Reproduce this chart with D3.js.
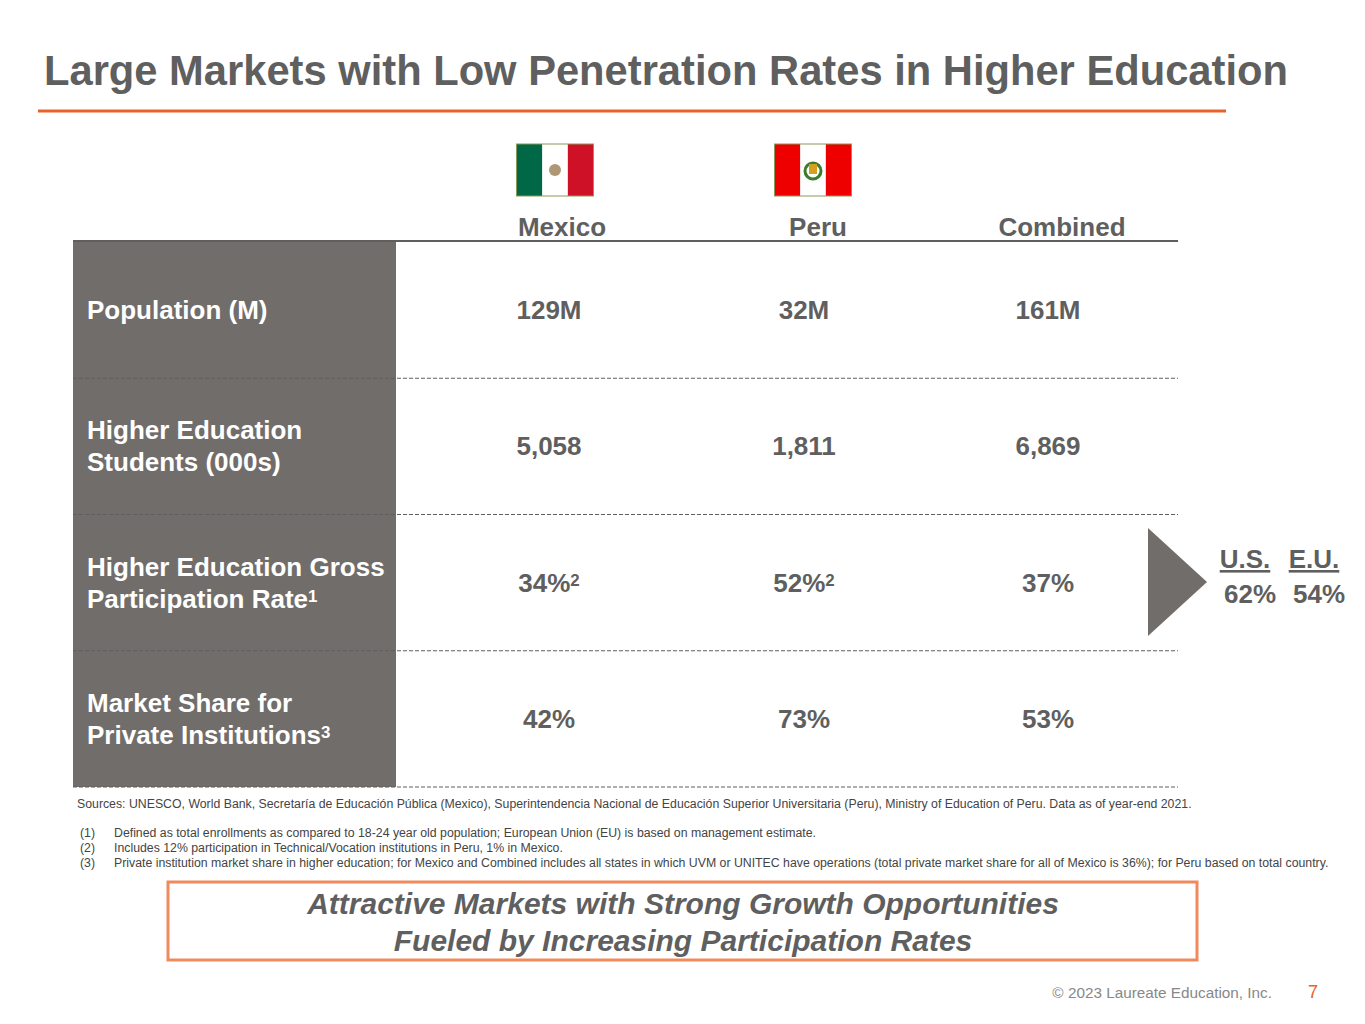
<!DOCTYPE html>
<html><head><meta charset="utf-8">
<script src="https://cdn.jsdelivr.net/npm/d3@7"></script>
<style>body{margin:0;background:#fff}svg{font-family:"Liberation Sans",Arial,sans-serif}</style>
</head><body><svg id="c" width="1365" height="1024"></svg>
<script>
// Table content
const columns = ["Mexico", "Peru", "Combined"];
const rowLabels = [["Population (M)"], ["Higher Education", "Students (000s)"],
  ["Higher Education Gross", "Participation Rate|1"], ["Market Share for", "Private Institutions|3"]];
const values = [["129M", "32M", "161M"], ["5,058", "1,811", "6,869"],
  ["34%|2", "52%|2", "37%"], ["42%", "73%", "53%"]];
const benchmarks = ["U.S.", "E.U."];
const benchmarkValues = ["62%", "54%"];
const footnotes = [
  "Defined as total enrollments as compared to 18-24 year old population; European Union (EU) is based on management estimate.",
  "Includes 12% participation in Technical/Vocation institutions in Peru, 1% in Mexico.",
  "Private institution market share in higher education; for Mexico and Combined includes all states in which UVM or UNITEC have operations (total private market share for all of Mexico is 36%); for Peru based on total country."
];

const grey = "#5f5f5f", boxGrey = "#716d6b", orange = "#e8622a";
const fs = 26;
const svg = d3.select("#c");

svg.append("text").attr("x", 44).attr("y", 85).attr("font-size", 41.7).attr("font-weight", "bold")
  .attr("fill", grey).text("Large Markets with Low Penetration Rates in Higher Education");
svg.append("line").attr("x1", 38).attr("x2", 1226).attr("y1", 111).attr("y2", 111)
  .attr("stroke", orange).attr("stroke-width", 3);

const x = d3.scaleOrdinal().domain(columns).range([549, 804, 1048]);
const headerX = d3.scaleOrdinal().domain(columns).range([562, 818, 1062]);
const y = d3.scaleBand().domain(d3.range(rowLabels.length)).range([242, 787]);

// helper: text with optional superscript after "|"
function supText(g, s, size) {
  const [main, sup] = s.split("|");
  g.append("tspan").text(main);
  if (sup) g.append("tspan").attr("font-size", size * 0.65).attr("dy", -6).text(sup);
}

// flags
function flag(cx, colors) {
  const w = 77, h = 52, x0 = cx - w / 2;
  colors.forEach((c, i) => svg.append("rect").attr("x", x0 + i * w / 3).attr("y", 144)
    .attr("width", w / 3 + 0.5).attr("height", h).attr("fill", c));
  svg.append("rect").attr("x", x0).attr("y", 144).attr("width", w).attr("height", h)
    .attr("fill", "none").attr("stroke", "#8a9a5b").attr("stroke-width", 1);
}
flag(555, ["#006847", "#ffffff", "#ce1126"]);
svg.append("circle").attr("cx", 555).attr("cy", 170).attr("r", 6).attr("fill", "#8b6b3a").attr("opacity", 0.7);
flag(813, ["#ef0000", "#ffffff", "#ef0000"]);
svg.append("circle").attr("cx", 813).attr("cy", 171).attr("r", 8).attr("fill", "none").attr("stroke", "#3a7d2c").attr("stroke-width", 3);
svg.append("rect").attr("x", 809).attr("y", 164).attr("width", 8).attr("height", 10).attr("fill", "#d4a020");

svg.selectAll(".hdr").data(columns).join("text").attr("x", d => headerX(d)).attr("y", 236)
  .attr("text-anchor", "middle").attr("font-size", fs).attr("font-weight", "bold").attr("fill", grey).text(d => d);
svg.append("line").attr("x1", 73).attr("x2", 1178).attr("y1", 241).attr("y2", 241).attr("stroke", grey).attr("stroke-width", 2);

svg.append("rect").attr("x", 73).attr("y", 242).attr("width", 323).attr("height", 545).attr("fill", boxGrey);

rowLabels.forEach((lines, i) => {
  const cy = y(i) + y.bandwidth() / 2;
  lines.forEach((l, j) => {
    const t = svg.append("text").attr("x", 87).attr("y", cy + 9 + (j - (lines.length - 1) / 2) * 32)
      .attr("font-size", fs).attr("font-weight", "bold").attr("fill", "#fff");
    supText(t, l, fs);
  });
  values[i].forEach((v, k) => {
    const t = svg.append("text").attr("x", x(columns[k])).attr("y", cy + 9)
      .attr("text-anchor", "middle").attr("font-size", fs).attr("font-weight", "bold").attr("fill", grey);
    supText(t, v, fs);
  });
  svg.append("line").attr("x1", 73).attr("x2", 1178).attr("y1", y(i) + y.bandwidth()).attr("y2", y(i) + y.bandwidth())
    .attr("stroke", grey).attr("stroke-width", 1).attr("stroke-dasharray", "4,2");
});

// arrow and benchmarks
svg.append("path").attr("d", "M1148,528L1207,582L1148,636Z").attr("fill", boxGrey);
const bx = d3.scalePoint().domain(benchmarks).range([1245, 1314]);
benchmarks.forEach((b, i) => {
  svg.append("text").attr("x", bx(b)).attr("y", 568).attr("text-anchor", "middle").attr("font-size", fs)
    .attr("font-weight", "bold").attr("fill", grey).attr("text-decoration", "underline").text(b);
  svg.append("text").attr("x", bx(b) + 5).attr("y", 603).attr("text-anchor", "middle").attr("font-size", fs)
    .attr("font-weight", "bold").attr("fill", grey).text(benchmarkValues[i]);
});

svg.append("text").attr("x", 77).attr("y", 808).attr("font-size", 12.3).attr("fill", "#444")
  .text("Sources:  UNESCO, World Bank, Secretaría de Educación Pública (Mexico), Superintendencia Nacional de Educación Superior Universitaria (Peru), Ministry of Education of Peru.  Data as of year-end 2021.");
footnotes.forEach((f, i) => {
  svg.append("text").attr("x", 80).attr("y", 837 + i * 15).attr("font-size", 12.3).attr("fill", "#444").text(`(${i + 1})`);
  svg.append("text").attr("x", 114).attr("y", 837 + i * 15).attr("font-size", 12.3).attr("fill", "#444").text(f);
});

svg.append("rect").attr("x", 168).attr("y", 882).attr("width", 1029).attr("height", 78)
  .attr("fill", "none").attr("stroke", "#f08a5d").attr("stroke-width", 3);
["Attractive Markets with Strong Growth Opportunities", "Fueled by Increasing Participation Rates"].forEach((t, i) => {
  svg.append("text").attr("x", 683).attr("y", 914 + i * 37).attr("text-anchor", "middle").attr("font-size", 30)
    .attr("font-weight", "bold").attr("font-style", "italic").attr("fill", grey).text(t);
});

svg.append("text").attr("x", 1272).attr("y", 998).attr("text-anchor", "end").attr("font-size", 15.3)
  .attr("fill", "#888").text("© 2023 Laureate Education, Inc.");
svg.append("text").attr("x", 1313).attr("y", 998).attr("text-anchor", "middle").attr("font-size", 18)
  .attr("fill", orange).text("7");
</script></body></html>
